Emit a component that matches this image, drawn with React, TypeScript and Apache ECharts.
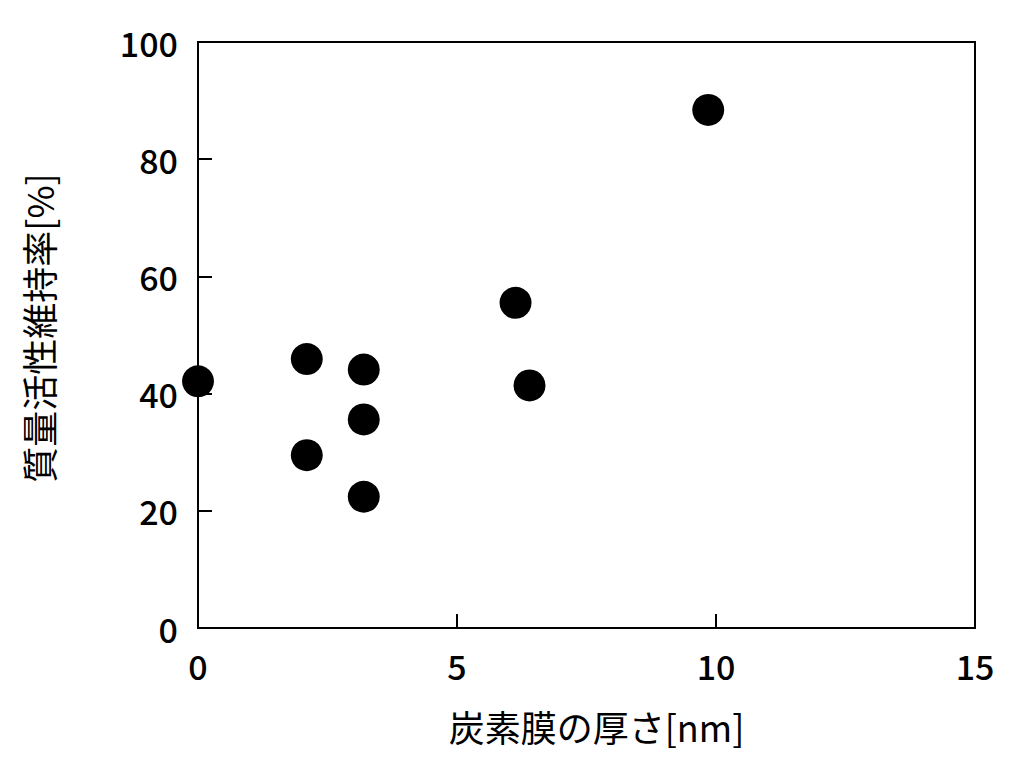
import React, { useEffect, useRef } from "react";
import * as echarts from "echarts";

const thickness = [0, 2.1, 2.1, 3.2, 3.2, 3.2, 6.13, 6.4, 9.85];
const retention = [42.1, 45.9, 29.5, 44.1, 35.6, 22.4, 55.5, 41.4, 88.4];
const xTitle = "炭素膜の厚さ[nm]";
const yTitle = "質量活性維持率[%]";

const FONT = "'Noto Sans CJK JP', 'Noto Sans', sans-serif";

export default function App() {
  const ref = useRef<HTMLDivElement>(null);
  useEffect(() => {
    document.body.style.margin = "0";
    const chart = echarts.init(ref.current!, undefined, { renderer: "svg" });
    const points = thickness.map((x, i) => [x, retention[i]]);
    chart.setOption({
      animation: false,
      backgroundColor: "#ffffff",
      grid: {
        left: 198,
        top: 42,
        right: 37,
        bottom: 142,
        show: true,
        borderColor: "#000",
        borderWidth: 2,
        backgroundColor: "transparent",
      },
      xAxis: {
        type: "value",
        min: 0,
        max: 15,
        interval: 5,
        name: xTitle,
        nameLocation: "middle",
        nameGap: 80,
        nameTextStyle: { fontFamily: FONT, fontSize: 36, color: "#000", padding: [0, 0, 0, 20] },
        axisLine: { show: true, lineStyle: { color: "#000", width: 2 } },
        axisTick: { show: true, inside: true, length: 14, lineStyle: { color: "#000", width: 2 } },
        axisLabel: { fontFamily: FONT, fontSize: 34, fontWeight: 500, color: "#000", margin: 20 },
        splitLine: { show: false },
      },
      yAxis: {
        type: "value",
        min: 0,
        max: 100,
        interval: 20,
        name: yTitle,
        nameLocation: "middle",
        nameGap: 142,
        nameRotate: 90,
        nameTextStyle: { fontFamily: FONT, fontSize: 36, color: "#000", padding: [0, 0, 0, 14] },
        axisLine: { show: true, lineStyle: { color: "#000", width: 2 } },
        axisTick: { show: true, inside: true, length: 14, lineStyle: { color: "#000", width: 2 } },
        axisLabel: { fontFamily: FONT, fontSize: 34, fontWeight: 500, color: "#000", margin: 20 },
        splitLine: { show: false },
      },
      series: [
        {
          type: "scatter",
          data: points,
          symbol: "circle",
          symbolSize: 32,
          itemStyle: { color: "#000", opacity: 1 },
        },
      ],
    });
    return () => chart.dispose();
  }, []);
  return <div ref={ref} style={{ width: 1012, height: 770 }} />;
}
